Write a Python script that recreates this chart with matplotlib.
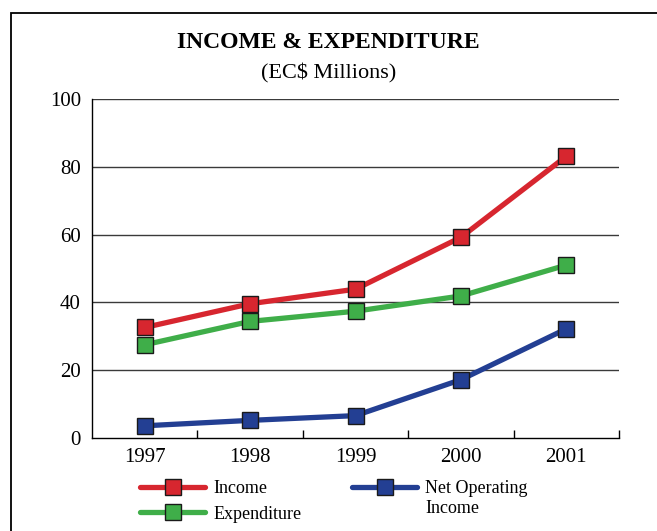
import matplotlib.pyplot as plt
from matplotlib.patches import Rectangle

# Income and expenditure, EC$ millions
years = ['1997', '1998', '1999', '2000', '2001']
income = [32.6, 39.6, 43.9, 59.2, 83.1]
expenditure = [27.5, 34.4, 37.4, 41.9, 51.0]
net_operating = [3.6, 5.2, 6.6, 17.2, 32.2]

y_ticks = [0, 20, 40, 60, 80, 100]

RED = '#d7262f'
GREEN = '#3fae49'
BLUE = '#233f93'

plt.rcParams['font.family'] = ['Liberation Serif', 'DejaVu Serif']


def plot_chart():
    fig = plt.figure(figsize=(6.57, 5.31), dpi=100)
    ax = fig.add_axes([92 / 657, 1 - 438 / 531, (619 - 92) / 657, (438 - 99) / 531])

    # outer frame (runs off the right and bottom edges)
    fig.patches.append(Rectangle((11 / 657, -0.1), 1.2, 1.1 - 13 / 531,
                                 transform=fig.transFigure, fill=False,
                                 edgecolor='black', linewidth=1.3))

    x = list(range(len(years)))
    style = dict(linewidth=3.8, marker='s', markersize=11.5,
                 markeredgecolor='#1a1a1a', markeredgewidth=1.0, solid_capstyle='round')
    l1, = ax.plot(x, income, color=RED, label='Income', **style)
    l2, = ax.plot(x, expenditure, color=GREEN, label='Expenditure', **style)
    l3, = ax.plot(x, net_operating, color=BLUE, label='Net Operating', **style)
    for ln in (l1, l2, l3):
        ln.set_zorder(3)

    ax.set_xlim(-0.5, len(years) - 0.5)
    ax.set_ylim(0, 100)

    # horizontal grid lines
    for v in y_ticks[1:]:
        ax.axhline(v, color='#3a3a3a', linewidth=1.0, zorder=1)

    ax.set_yticks(y_ticks)
    ax.set_yticklabels([str(v) for v in y_ticks], fontsize=15)
    ax.tick_params(axis='y', length=0, pad=8)

    # category labels centred, tick marks between categories
    ax.set_xticks(x)
    ax.set_xticklabels(years, fontsize=15)
    ax.set_xticks([i + 0.5 for i in x], minor=True)
    ax.tick_params(axis='x', which='major', length=0, pad=7)
    ax.tick_params(axis='x', which='minor', direction='in', length=6, width=1.0)

    for side in ('top', 'right'):
        ax.spines[side].set_visible(False)
    ax.spines['left'].set_linewidth(1.0)
    ax.spines['bottom'].set_linewidth(1.0)

    fig.text(0.5, 1 - 43 / 531, 'INCOME & EXPENDITURE', ha='center', va='center',
             fontsize=17, fontweight='bold')
    fig.text(0.5, 1 - 73 / 531, '(EC$ Millions)', ha='center', va='center', fontsize=16)

    leg = fig.legend(handles=[l1, l2, l3], ncol=2, loc='upper left',
                     bbox_to_anchor=(133 / 657, 1 - 473 / 531), frameon=False,
                     fontsize=13, handlelength=3.6, handletextpad=0.45,
                     columnspacing=2.8, labelspacing=0.47, borderaxespad=0)

    # second line of the "Net Operating Income" label, under the first
    fig.canvas.draw()
    bb = leg.get_texts()[2].get_window_extent().transformed(fig.transFigure.inverted())
    fig.text(bb.x0, bb.y0 - 0.006, 'Income', ha='left', va='top', fontsize=13)
    return fig


def main():
    fig = plot_chart()
    fig.savefig('out.png', dpi=100)


if __name__ == "__main__":
    main()
